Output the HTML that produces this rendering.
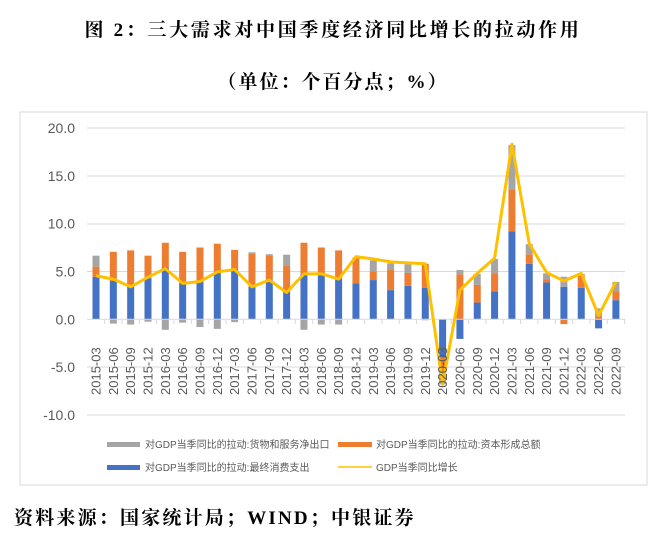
<!DOCTYPE html>
<html><head><meta charset="utf-8"><style>
body{margin:0;background:#fff;width:667px;height:559px;overflow:hidden}
svg{position:absolute;left:0;top:0}
</style></head><body>
<svg width="667" height="559" xmlns="http://www.w3.org/2000/svg">
<text x="333" y="36" text-anchor="middle" letter-spacing="2.7" font-family="'Liberation Serif','Noto Serif CJK SC',serif" font-weight="bold" font-size="19" fill="#000">图 2：三大需求对中国季度经济同比增长的拉动作用</text>
<text x="333" y="88" text-anchor="middle" letter-spacing="2" font-family="'Liberation Serif','Noto Serif CJK SC',serif" font-weight="bold" font-size="19" fill="#000">（单位：个百分点；%）</text>
<rect x="20" y="112" width="627" height="373" fill="none" stroke="#d9d9d9" stroke-width="1"/>
<g stroke="#d9d9d9" stroke-width="1">
<line x1="87" x2="625" y1="128" y2="128"/><line x1="87" x2="625" y1="176" y2="176"/>
<line x1="87" x2="625" y1="224" y2="224"/><line x1="87" x2="625" y1="271.5" y2="271.5"/>
<line x1="87" x2="625" y1="367" y2="367"/><line x1="87" x2="625" y1="415" y2="415"/>
</g>
<g id="yl" font-family="'Liberation Sans',sans-serif" font-size="14" fill="#595959" text-anchor="end"></g>
<g id="bars"></g>
<line x1="87" x2="625" y1="319.3" y2="319.3" stroke="#d9d9d9"/>
<g id="ticks" stroke="#d9d9d9"></g>
<polyline id="ln" fill="none" stroke="#FFC000" stroke-width="3" stroke-linejoin="round"/>
<g id="xl" font-family="'Liberation Sans',sans-serif" font-size="13" fill="#595959"></g>
<g font-family="'Liberation Sans','Noto Sans CJK SC',sans-serif" font-size="10" fill="#595959">
<rect x="107" y="442" width="33" height="5" fill="#A5A5A5"/><text x="145" y="448">对GDP当季同比的拉动:货物和服务净出口</text>
<rect x="338" y="442" width="34" height="5" fill="#ED7D31"/><text x="376" y="448">对GDP当季同比的拉动:资本形成总额</text>
<rect x="107" y="465" width="33" height="5" fill="#4472C4"/><text x="145" y="471">对GDP当季同比的拉动:最终消费支出</text>
<line x1="338" x2="372" y1="467" y2="467" stroke="#FFC000" stroke-width="1.5"/><text x="376" y="471">GDP当季同比增长</text>
</g>
<text x="14" y="524" letter-spacing="2.2" font-family="'Liberation Serif','Noto Serif CJK SC',serif" font-weight="bold" font-size="19" fill="#000">资料来源：国家统计局；WIND；中银证券</text>
</svg>
<script>
const Y=v=>319.3-v*9.57, X=i=>96+i*17.33, ns="http://www.w3.org/2000/svg";
const d=[[4.45,1.05,1.15,4.55],[4.0,3.05,-0.45,4.2],[3.4,3.8,-0.55,3.4],[4.3,2.35,-0.25,4.4],[5.45,2.55,-1.1,5.3],[3.8,3.25,-0.35,3.75],[3.9,3.6,-0.8,3.95],[4.9,3.0,-1.0,4.95],[5.2,2.05,-0.3,5.2],[3.4,3.5,0.1,3.4],[4.1,2.6,0.1,4.1],[2.9,2.75,1.1,2.8],[4.75,3.25,-1.1,4.75],[4.65,2.85,-0.55,4.75],[4.2,3.0,-0.55,4.2],[3.75,2.7,0,6.55],[4.1,0.9,1.15,6.3],[3.05,2.1,0.7,6.0],[3.5,1.35,0.9,5.9],[3.3,2.5,-0.1,5.8],[-4.0,-1.5,-1.3,-6.8],[-2.05,4.7,0.45,3.05],[1.75,1.85,1.15,4.8],[2.9,1.9,1.5,6.4],[9.2,4.4,4.6,18.3],[5.8,1.0,1.05,7.9],[3.85,0.35,0.6,4.9],[3.4,-0.5,1.05,4.0],[3.3,1.25,0.2,4.8],[-0.95,0.3,0.85,0.4],[2.0,0.9,1.0,3.9]];
const labs=[];for(let y=2015;y<=2022;y++)for(const m of["03","06","09","12"])labs.push(y+"-"+m);
const B=document.getElementById("bars"),XL=document.getElementById("xl"),T=document.getElementById("ticks"),YL=document.getElementById("yl");
const cols=["#4472C4","#ED7D31","#A5A5A5"];
function r(x,a,b,c){const e=document.createElementNS(ns,"rect");e.setAttribute("x",x-3.5);e.setAttribute("width",7);e.setAttribute("y",Math.min(Y(a),Y(b)));e.setAttribute("height",Math.abs(Y(a)-Y(b)));e.setAttribute("fill",c);B.appendChild(e);}
let pts=[];
d.forEach((v,i)=>{let p=0,n=0;const x=X(i);
for(let k=0;k<3;k++){const s=v[k];if(s>=0){r(x,p,p+s,cols[k]);p+=s;}else{r(x,n,n+s,cols[k]);n+=s;}}
pts.push(x+","+Y(v[3]));
const t=document.createElementNS(ns,"text");t.setAttribute("transform",`translate(${x+4.5},395) rotate(-90)`);t.textContent=labs[i];XL.appendChild(t);
const l=document.createElementNS(ns,"line");const tx=x+8.66;l.setAttribute("x1",tx);l.setAttribute("x2",tx);l.setAttribute("y1",319.3);l.setAttribute("y2",324);T.appendChild(l);});
document.getElementById("ln").setAttribute("points",pts.join(" "));
[20,15,10,5,0,-5,-10].forEach(v=>{const t=document.createElementNS(ns,"text");t.setAttribute("x",75);t.setAttribute("y",Y(v)+5);t.textContent=v.toFixed(1);YL.appendChild(t);});
</script>
</body></html>
